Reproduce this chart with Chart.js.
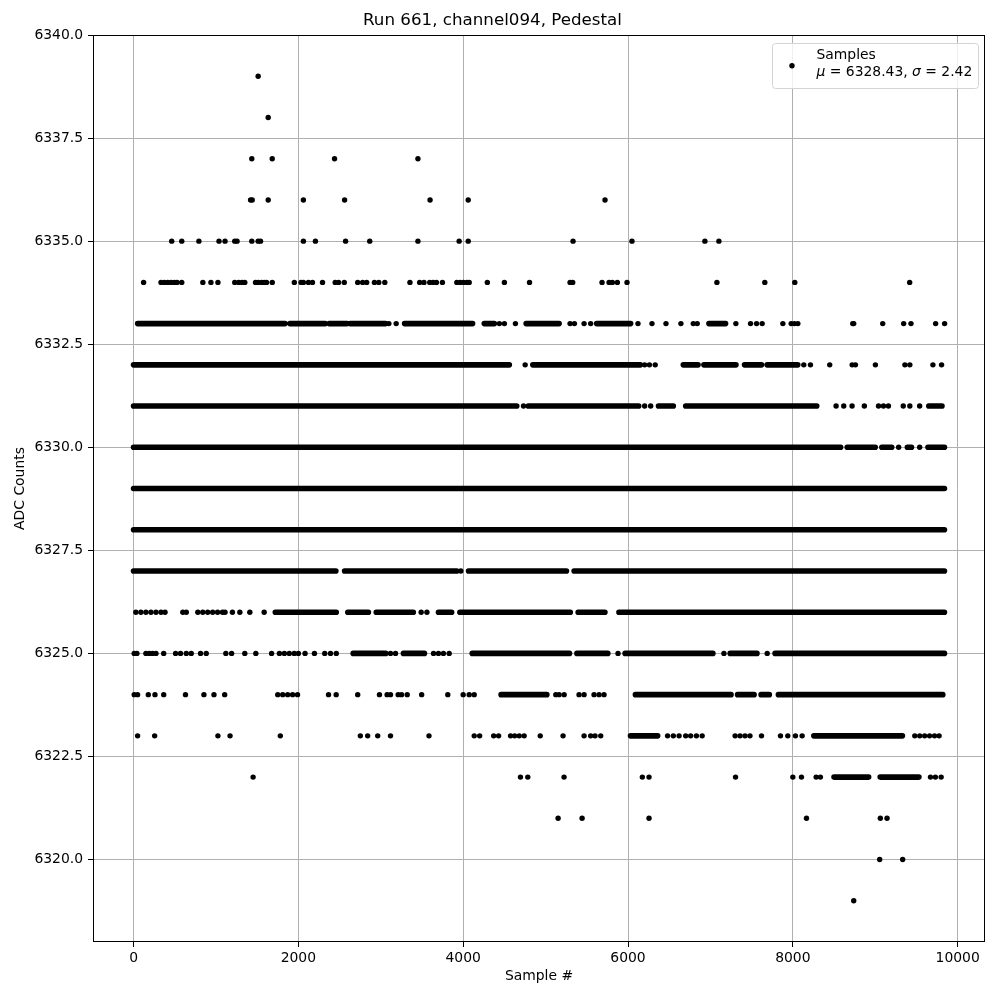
<!DOCTYPE html>
<html>
<head>
<meta charset="utf-8">
<script src="https://cdn.jsdelivr.net/npm/chart.js@4.4.1/dist/chart.umd.min.js"></script>
<style>
html, body { margin: 0; padding: 0; background: #fff; }
canvas { display: block; }
</style>
</head>
<body>
<canvas id="pedestal-chart" width="1000" height="1000" style="width:1000px;height:1000px"></canvas>
<script>
// chart text and ticks
const titleText = 'Run 661, channel094, Pedestal';
const xLabel = 'Sample #';
const yLabel = 'ADC Counts';
const seriesLabel = 'Samples';
const meanValue = 6328.43;
const sigmaValue = 2.42;
const xTicks = [0, 2000, 4000, 6000, 8000, 10000];
const yTicks = [6320, 6322.5, 6325, 6327.5, 6330, 6332.5, 6335, 6337.5, 6340];

// ADC levels; per level: isolated samples (dots) and stretches of samples so dense they merge (runs, [first, last])
const adcLevels = [6319, 6320, 6321, 6322, 6323, 6324, 6325, 6326, 6327, 6328, 6329, 6330, 6331, 6332, 6333, 6334, 6335, 6336, 6337, 6338, 6339];

const dots6339 = [1512];
const dots6338 = [1634];
const dots6337 = [1435, 1683, 2439, 3451];
const dots6336 = [1420, 1440, 1634, 2061, 2561, 3598, 4061, 5721];
const dots6335 = [463, 585, 793, 1037, 1110, 1228, 1256, 1435, 1512, 1541, 2061, 2207, 2573, 2866, 3451, 3951, 4061, 5333, 6048, 6933, 7103];
const dots6334 = [122, 333, 374, 415, 455, 496, 528, 585, 841, 939, 1024, 1228, 1276, 1317, 1350, 1480, 1512, 1553, 1585, 1614, 1683, 1951, 2033, 2061, 2122, 2171, 2293, 2447, 2488, 2557, 2720, 2780, 2829, 2923, 2976, 3049, 3354, 3472, 3524, 3594, 3634, 3675, 3748, 3923, 3963, 4004, 4045, 4073, 4293, 4500, 4805, 5297, 5329, 5685, 5770, 5810, 5871, 5988, 7079, 7660, 8024, 9418];
const dots6333 = [3098, 3187, 4439, 4500, 4634, 5297, 5350, 5467, 5547, 6121, 6291, 6461, 6642, 6792, 6840, 7309, 7487, 7560, 7628, 7879, 7980, 8020, 8061, 8727, 8739, 9091, 9345, 9434, 9733, 9842];
const dots6332 = [4752, 6202, 6260, 6330, 8133, 8214, 8448, 8720, 8760, 9002, 9360, 9420, 9700, 9805];
const dots6331 = [4732, 6202, 6275, 8525, 8618, 8719, 8868, 9040, 9100, 9160, 9340, 9420, 9539];
const dots6330 = [9284, 9539];
const dots6329 = [];
const dots6328 = [];
const dots6327 = [3972];
const dots6326 = [28, 89, 150, 211, 272, 333, 382, 598, 640, 780, 840, 900, 960, 1020, 1080, 1110, 1200, 1290, 1411, 1585, 3490, 3560];
const dots6325 = [8, 41, 150, 190, 230, 272, 366, 510, 570, 640, 700, 813, 882, 1120, 1190, 1350, 1484, 1675, 1770, 1830, 1890, 1950, 2000, 2081, 2195, 2320, 2390, 2460, 3118, 3179, 3640, 3700, 3760, 3830, 5879, 7164, 7689];
const dots6324 = [8, 49, 179, 260, 366, 630, 854, 976, 1106, 1750, 1810, 1870, 1930, 1990, 2366, 2459, 2720, 2984, 3077, 3118, 3211, 3252, 3321, 3496, 3813, 4000, 4073, 4134, 5124, 5164, 5225, 5406, 5467, 5588, 5649, 5709];
const dots6323 = [49, 256, 1024, 1171, 1781, 2752, 2841, 2963, 3118, 3585, 4134, 4200, 4370, 4430, 4575, 4625, 4680, 4740, 4935, 5212, 5467, 5547, 5600, 5669, 6480, 6550, 6620, 6700, 6760, 6830, 6900, 7300, 7360, 7420, 7480, 7620, 7850, 7939, 8032, 8113, 9480, 9540, 9600, 9660, 9720, 9775];
const dots6322 = [1451, 4695, 4784, 5224, 6174, 6255, 7305, 8000, 8105, 8283, 8335, 9670, 9730, 9800];
const dots6321 = [5152, 5443, 6255, 8166, 9062, 9143];
const dots6320 = [9054, 9333];
const dots6319 = [8739];

const runs6339 = [];
const runs6338 = [];
const runs6337 = [];
const runs6336 = [];
const runs6335 = [];
const runs6334 = [];
const runs6333 = [[50, 1837], [1898, 2325], [2374, 2589], [2630, 3057], [3289, 4114], [4256, 4378], [4764, 5164], [5620, 6032], [6982, 7184]];
const runs6332 = [[0, 4560], [4845, 6150], [6671, 6850], [6921, 7310], [7414, 7620], [7689, 8060]];
const runs6331 = [[0, 4650], [4790, 6130], [6370, 6550], [6700, 8290], [9650, 9810]];
const runs6330 = [[0, 8580], [8660, 9000], [9080, 9200], [9390, 9440], [9640, 9840]];
const runs6329 = [[0, 9840]];
const runs6328 = [[0, 9840]];
const runs6327 = [[0, 2455], [2561, 3923], [4065, 5253], [5346, 9840]];
const runs6326 = [[1720, 2460], [2600, 2850], [2945, 3395], [3700, 3860], [3960, 5300], [5395, 5720], [5890, 9840]];
const runs6325 = [[2665, 3060], [3275, 3530], [4110, 5290], [5380, 5755], [5965, 7030], [7240, 7565], [7785, 9840]];
const runs6324 = [[4460, 5015], [6090, 7250], [7330, 7530], [7615, 7715], [7825, 9820]];
const runs6323 = [[6030, 6360], [8255, 9330]];
const runs6322 = [[8500, 8920], [9060, 9530]];
const runs6321 = [];
const runs6320 = [];
const runs6319 = [];

const dotsByLevel = [dots6319, dots6320, dots6321, dots6322, dots6323, dots6324, dots6325, dots6326, dots6327, dots6328, dots6329,
  dots6330, dots6331, dots6332, dots6333, dots6334, dots6335, dots6336, dots6337, dots6338, dots6339];
const runsByLevel = [runs6319, runs6320, runs6321, runs6322, runs6323, runs6324, runs6325, runs6326, runs6327, runs6328, runs6329,
  runs6330, runs6331, runs6332, runs6333, runs6334, runs6335, runs6336, runs6337, runs6338, runs6339];

const dotPoints = [];
const runPoints = [];
adcLevels.forEach(function (level, i) {
  dotsByLevel[i].forEach(function (s) {
    dotPoints.push({ x: s, y: level });
  });
  runsByLevel[i].forEach(function (r) {
    runPoints.push({ x: r[0], y: level }, { x: r[1], y: level }, { x: r[1], y: null });
  });
});

const fontFamily = "'DejaVu Sans', sans-serif";
const fontSize = 13.9;
const dotRadius = 2.7;

Chart.defaults.font.family = fontFamily;
Chart.defaults.font.size = fontSize;
Chart.defaults.color = '#000';

// matplotlib-like closed frame
const frame = {
  id: 'frame',
  afterDatasetsDraw(chart) {
    const ctx = chart.ctx, a = chart.chartArea;
    ctx.save();
    ctx.strokeStyle = '#000';
    ctx.lineWidth = 1;
    ctx.strokeRect(Math.round(a.left) + 0.5, Math.round(a.top) + 0.5,
      Math.round(a.right - a.left) - 1, Math.round(a.bottom - a.top) - 1);
    ctx.restore();
  }
};

// legend with two text lines
const legendBox = {
  id: 'legendBox',
  afterDraw(chart) {
    const ctx = chart.ctx, a = chart.chartArea;
    const w = 206, h = 45;
    const x = Math.round(a.right - 7 - w) + 0.5, y = Math.round(a.top + 7.5) + 0.5;
    ctx.save();
    ctx.beginPath();
    ctx.roundRect(x, y, w, h, 3);
    ctx.fillStyle = 'rgba(255,255,255,0.8)';
    ctx.fill();
    ctx.strokeStyle = '#d4d4d4';
    ctx.lineWidth = 1;
    ctx.stroke();

    ctx.beginPath();
    ctx.arc(x + 19.5, y + 22.3, dotRadius, 0, Math.PI * 2);
    ctx.fillStyle = '#000';
    ctx.fill();

    ctx.textBaseline = 'alphabetic';
    ctx.textAlign = 'left';
    ctx.font = fontSize + 'px ' + fontFamily;
    ctx.fillText(seriesLabel, x + 44, y + 15.8);

    let tx = x + 44;
    const ty = y + 32.5;
    const parts = [
      ['\u03bc', true],
      [' = ' + meanValue.toFixed(2) + ', ', false],
      ['\u03c3', true],
      [' = ' + sigmaValue.toFixed(2), false]
    ];
    parts.forEach(function (p) {
      ctx.font = (p[1] ? 'italic ' : '') + fontSize + 'px ' + fontFamily;
      ctx.fillText(p[0], tx, ty);
      tx += ctx.measureText(p[0]).width;
    });
    ctx.restore();
  }
};

const gridOpts = {
  color: '#b0b0b0',
  lineWidth: 1,
  tickColor: '#000',
  tickLength: 5,
  tickWidth: 1
};

const ctx = document.getElementById('pedestal-chart').getContext('2d');
const pedestalChart = new Chart(ctx, {
  type: 'scatter',
  data: {
    datasets: [{
      label: seriesLabel,
      data: dotPoints,
      backgroundColor: '#000',
      borderWidth: 0,
      pointRadius: dotRadius,
      pointHoverRadius: dotRadius
    }, {
      label: seriesLabel + ' (dense)',
      data: runPoints,
      showLine: true,
      spanGaps: false,
      borderColor: '#000',
      borderWidth: 5.6,
      borderCapStyle: 'round',
      pointRadius: 0,
      pointHoverRadius: 0
    }]
  },
  options: {
    responsive: false,
    animation: false,
    events: [],
    layout: { padding: { left: 0, right: 15, top: 0, bottom: 0 } },
    plugins: {
      legend: { display: false },
      tooltip: { enabled: false },
      title: {
        display: true,
        text: titleText,
        color: '#000',
        font: { size: 16.7, weight: 'normal' },
        padding: { top: 11, bottom: 4 }
      }
    },
    scales: {
      x: {
        type: 'linear',
        min: -492,
        max: 10332,
        afterBuildTicks: function (scale) {
          scale.ticks = xTicks.map(function (v) { return { value: v }; });
        },
        afterFit: function (scale) { scale.height = 58; },
        ticks: {
          callback: function (v) { return String(v); },
          color: '#000',
          padding: 3,
          maxRotation: 0,
          autoSkip: false
        },
        grid: gridOpts,
        border: { display: false },
        title: {
          display: true,
          text: xLabel,
          color: '#000',
          padding: { top: 0, bottom: 15 }
        }
      },
      y: {
        type: 'linear',
        min: 6318,
        max: 6340,
        afterBuildTicks: function (scale) {
          scale.ticks = yTicks.map(function (v) { return { value: v }; });
        },
        afterFit: function (scale) { scale.width = 93; },
        ticks: {
          callback: function (v) { return Number(v).toFixed(1); },
          color: '#000',
          padding: 5,
          autoSkip: false
        },
        grid: gridOpts,
        border: { display: false },
        title: {
          display: true,
          text: yLabel,
          color: '#000',
          padding: { top: 12, bottom: 0 }
        }
      }
    }
  },
  plugins: [frame, legendBox]
});
</script>
</body>
</html>
